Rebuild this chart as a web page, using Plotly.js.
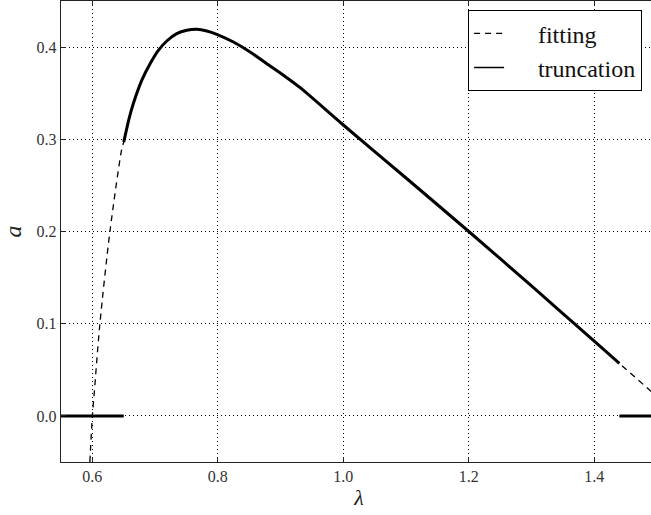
<!DOCTYPE html>
<html>
<head>
<meta charset="utf-8">
<script src="https://cdn.plot.ly/plotly-3.0.1.min.js"></script>
<style>
  html, body { margin: 0; padding: 0; overflow: hidden; background: #fff; }
  #chart { width: 657px; height: 515px; }
</style>
</head>
<body>
<div id="chart"></div>
<script>
// Fitted curve a(λ)
const lambdaFit = [0.596, 0.600, 0.603, 0.612, 0.628, 0.647, 0.650, 0.6585,
  0.6653, 0.6787, 0.692, 0.7052, 0.7186, 0.7345, 0.7505, 0.7664, 0.7824, 0.7983,
  0.8248, 0.8514, 0.878, 0.9045, 0.9312, 1.000, 1.100, 1.200, 1.300, 1.400,
  1.440, 1.500];
const aFit = [-0.050, 0.000, 0.025, 0.100, 0.200, 0.290, 0.297, 0.3225,
  0.3388, 0.364, 0.382, 0.3965, 0.4066, 0.4146, 0.4182, 0.4193, 0.4175, 0.4139,
  0.4055, 0.3947, 0.382, 0.3695, 0.356, 0.3155, 0.258, 0.200, 0.141, 0.081,
  0.057, 0.021];

// Truncation: zero outside [lowCut, highCut], fitted curve inside
const lambdaMin = 0.55, lambdaMax = 1.5;
const lowCut = 0.65, highCut = 1.44;

const lambdaTrunc = [lambdaMin, lowCut, null];
const aTrunc = [0, 0, null];
lambdaFit.forEach((l, i) => {
  if (l >= lowCut && l <= highCut) { lambdaTrunc.push(l); aTrunc.push(aFit[i]); }
});
lambdaTrunc.push(null, highCut, lambdaMax);
aTrunc.push(null, 0, 0);

const xTicks = [0.6, 0.8, 1.0, 1.2, 1.4];
const yTicks = [0.0, 0.1, 0.2, 0.3, 0.4];

const serif = 'Liberation Serif, DejaVu Serif, serif';
const pad = '\u2003\u2009';

const traces = [
  { x: lambdaFit, y: aFit, mode: 'lines', name: pad + 'fitting', legendgroup: 'g1',
    line: { color: '#000', width: 1.3, dash: '6px,5px', shape: 'spline', smoothing: 0.8 } },
  { x: lambdaTrunc, y: aTrunc, mode: 'lines', name: 'truncation', showlegend: false,
    connectgaps: false, line: { color: '#000', width: 3, shape: 'spline', smoothing: 0.8 } },
  // thin legend entry for the truncation line
  { x: [null], y: [null], mode: 'lines', name: pad + 'truncation', legendgroup: 'g2',
    line: { color: '#000', width: 1.3 } }
];

const axisCommon = {
  showline: true, linecolor: '#222', linewidth: 1.2, mirror: 'ticks',
  ticks: 'inside', ticklen: 5, tickwidth: 1, tickcolor: '#222',
  showgrid: true, gridcolor: '#000', gridwidth: 1, griddash: '1px,3px',
  zeroline: false, tickfont: { family: serif, size: 16, color: '#333' }
};

const layout = {
  width: 657, height: 515,
  margin: { l: 61, r: 0, t: 1, b: 53 },
  paper_bgcolor: '#fff', plot_bgcolor: '#fff',
  xaxis: Object.assign({}, axisCommon, {
    range: [lambdaMin, lambdaMax], tickvals: xTicks,
    ticktext: xTicks.map(v => v.toFixed(1)),
    title: { text: '<i>λ</i>', font: { family: serif, size: 22, color: '#222' }, standoff: 5 }
  }),
  yaxis: Object.assign({}, axisCommon, {
    range: [-0.05, 0.45], tickvals: yTicks,
    ticktext: yTicks.map(v => v.toFixed(1)),
    title: { text: '<i>a</i>', font: { family: serif, size: 24, color: '#222' }, standoff: 8 }
  }),
  showlegend: true,
  legend: {
    x: 0.975, xanchor: 'right', y: 0.98, yanchor: 'top',
    bgcolor: '#fff', bordercolor: '#000', borderwidth: 1,
    font: { family: serif, size: 24, color: '#111' },
    traceorder: 'grouped', tracegroupgap: 0
  }
};

Plotly.newPlot('chart', traces, layout, { displayModeBar: false, staticPlot: true });
</script>
</body>
</html>
